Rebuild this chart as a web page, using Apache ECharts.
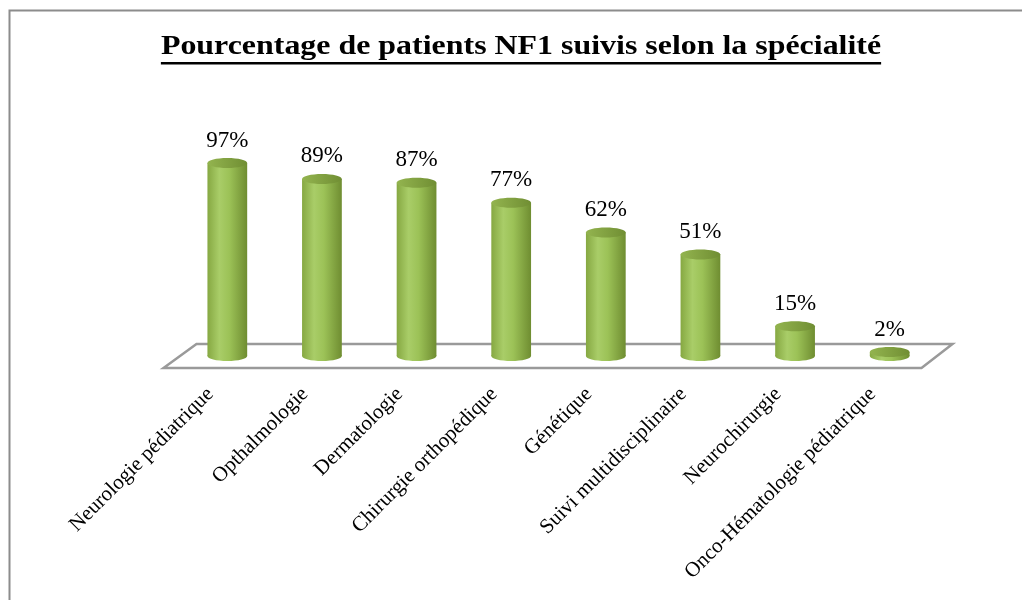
<!DOCTYPE html>
<html>
<head>
<meta charset="utf-8">
<script src="https://cdn.jsdelivr.net/npm/echarts@6/dist/echarts.min.js"></script>
<style>
  body { margin: 0; background: #fff; }
  #chart { width: 1022px; height: 600px; }
</style>
</head>
<body>
<div id="chart"></div>
<script>
// données
const categories = [
  "Neurologie pédiatrique",
  "Opthalmologie",
  "Dermatologie",
  "Chirurgie orthopédique",
  "Génétique",
  "Suivi multidisciplinaire",
  "Neurochirurgie",
  "Onco-Hématologie pédiatrique"
];
const values = [97, 89, 87, 77, 62, 51, 15, 2];
const titleText = "Pourcentage de patients NF1 suivis selon la spécialité";

const serif = "'Liberation Serif', 'Times New Roman', serif";
const titleScale = 1.14;

// largeur du titre pour le soulignement
const ctx = document.createElement("canvas").getContext("2d");
ctx.font = "bold 28px " + serif;
const titleW = ctx.measureText(titleText).width * titleScale;

const myChart = echarts.init(document.getElementById("chart"));

function bodyFill() {
  return new echarts.graphic.LinearGradient(0, 0, 1, 0, [
    { offset: 0, color: "#86a842" },
    { offset: 0.3, color: "#a9cd68" },
    { offset: 0.55, color: "#9cc257" },
    { offset: 1, color: "#6f8d31" }
  ]);
}

function renderCylinder(params, api) {
  const top = api.coord([api.value(0), api.value(1)]);
  const base = api.coord([api.value(0), 0]);
  const rx = api.size([1, 0])[0] * 0.21;
  const ry = 5;
  const cx = top[0];
  return {
    type: "group",
    children: [
      {
        type: "ellipse",
        shape: { cx: cx, cy: base[1], rx: rx, ry: ry },
        style: { fill: bodyFill() }
      },
      {
        type: "rect",
        shape: { x: cx - rx, y: top[1], width: rx * 2, height: base[1] - top[1] },
        style: { fill: bodyFill() }
      },
      {
        type: "ellipse",
        shape: { cx: cx, cy: top[1], rx: rx, ry: ry },
        style: {
          fill: new echarts.graphic.LinearGradient(0, 0, 1, 0, [
            { offset: 0, color: "#93b44f" },
            { offset: 1, color: "#708e33" }
          ])
        }
      },
      {
        type: "text",
        x: cx,
        y: top[1] - ry - 6,
        style: {
          text: api.value(1) + "%",
          font: "23px " + serif,
          fill: "#000",
          align: "center",
          verticalAlign: "bottom"
        }
      }
    ]
  };
}

function renderFloor(params, api) {
  const cs = params.coordSys;
  const y0 = api.coord([0, 0])[1];
  return {
    type: "polygon",
    shape: {
      points: [
        [cs.x - 16.5, y0 + 12],
        [cs.x + 16.5, y0 - 12],
        [cs.x + cs.width + 15.5, y0 - 12],
        [cs.x + cs.width - 15.5, y0 + 12]
      ]
    },
    style: { fill: "none", stroke: "#9a9a9a", lineWidth: 2.5 }
  };
}

const option = {
  animation: false,
  graphic: [
    {
      type: "rect",
      left: 7,
      top: 8,
      shape: { width: 1100, height: 700 },
      style: { fill: "none", stroke: "#8c8c8c", lineWidth: 2 },
      z: -10
    },
    {
      type: "text",
      x: 521,
      y: 47,
      scaleX: titleScale,
      style: {
        text: titleText,
        font: "bold 28px " + serif,
        fill: "#000",
        align: "center",
        verticalAlign: "middle"
      }
    },
    {
      type: "rect",
      left: 521 - titleW / 2,
      top: 62,
      shape: { width: titleW, height: 2.5 },
      style: { fill: "#000" }
    }
  ],
  grid: {
    left: 180,
    width: 757,
    top: 157,
    height: 199
  },
  xAxis: {
    type: "category",
    data: categories,
    axisLine: { show: false },
    axisTick: { show: false },
    axisLabel: {
      rotate: 45,
      interval: 0,
      margin: 18,
      padding: [0, 24, 0, 0],
      fontFamily: serif,
      fontSize: 21,
      color: "#000"
    }
  },
  yAxis: {
    type: "value",
    min: 0,
    max: 100,
    show: false,
    splitLine: { show: false }
  },
  series: [
    {
      type: "custom",
      renderItem: renderFloor,
      data: [[0, 0]],
      z: 1,
      silent: true
    },
    {
      type: "custom",
      renderItem: renderCylinder,
      data: values.map(function (v, i) { return [i, v]; }),
      z: 2
    }
  ]
};
myChart.setOption(option);
window.addEventListener("resize", function () {
  myChart.resize();
});
</script>
</body>
</html>
